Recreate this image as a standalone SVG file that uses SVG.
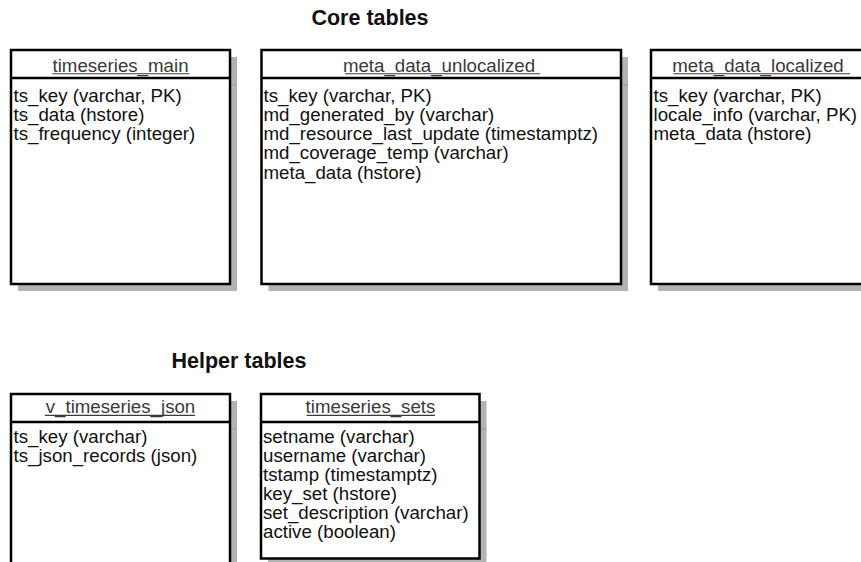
<svg xmlns="http://www.w3.org/2000/svg" width="861" height="562" viewBox="0 0 861 562">
<style>
.title{font-family:"Liberation Sans",Arial,sans-serif;font-size:21.5px;font-weight:bold;fill:#111}
.hdr{font-family:"Liberation Sans",Arial,sans-serif;font-size:18.7px;fill:#3a3a3a;text-anchor:middle}
.body{font-family:"Liberation Sans",Arial,sans-serif;font-size:18.7px;fill:#111}
.box{fill:#fff;stroke:#000;stroke-width:2.5}
.shadow{fill:#b3b3b3}
.shline{stroke:#999;stroke-width:1}
.ul{stroke:#3a3a3a;stroke-width:1.1}
</style>
<rect width="861" height="562" fill="#fff"/>
<text class="title" x="370" y="25" text-anchor="middle">Core tables</text>
<text class="title" x="239" y="368.3" text-anchor="middle">Helper tables</text>

<g id="timeseries_main">
<rect class="shadow" x="18" y="57" width="219" height="234"/>
<line class="shline" x1="231" y1="85" x2="237" y2="85"/>
<rect class="box" x="11" y="50" width="219" height="234"/>
<line class="box" x1="11" y1="78" x2="230" y2="78"/>
<text class="hdr" x="120.5" y="71.7">timeseries_main</text>
<line class="ul" x1="52.3" y1="73.8" x2="189.3" y2="73.8"/>
<text class="body" x="13.5" y="101.7">ts_key (varchar, PK)</text>
<text class="body" x="13.5" y="120.9">ts_data (hstore)</text>
<text class="body" x="13.5" y="140.1">ts_frequency (integer)</text>
</g>

<g id="meta_data_unlocalized">
<rect class="shadow" x="268.5" y="57" width="359.5" height="234"/>
<line class="shline" x1="622" y1="85" x2="628" y2="85"/>
<rect class="box" x="261.5" y="50" width="359.5" height="234"/>
<line class="box" x1="261.5" y1="78" x2="621" y2="78"/>
<text class="hdr" x="439" y="71.7">meta_data_unlocalized</text>
<line class="ul" x1="345" y1="73.8" x2="540" y2="73.8"/>
<text class="body" x="263.5" y="101.7">ts_key (varchar, PK)</text>
<text class="body" x="263.5" y="120.9">md_generated_by (varchar)</text>
<text class="body" x="263.5" y="140.1">md_resource_last_update (timestamptz)</text>
<text class="body" x="263.5" y="159.3">md_coverage_temp (varchar)</text>
<text class="body" x="263.5" y="178.5">meta_data (hstore)</text>
</g>

<g id="meta_data_localized">
<rect class="shadow" x="658" y="57" width="220" height="234"/>
<rect class="box" x="651" y="50" width="220" height="234"/>
<line class="box" x1="651" y1="78" x2="871" y2="78"/>
<text class="hdr" x="758" y="71.7">meta_data_localized</text>
<line class="ul" x1="673.3" y1="73.8" x2="850" y2="73.8"/>
<text class="body" x="653.5" y="101.7">ts_key (varchar, PK)</text>
<text class="body" x="653.5" y="120.9">locale_info (varchar, PK)</text>
<text class="body" x="653.5" y="140.1">meta_data (hstore)</text>
</g>

<g id="v_timeseries_json">
<rect class="shadow" x="18" y="401" width="219" height="220"/>
<line class="shline" x1="231" y1="429" x2="237" y2="429"/>
<rect class="box" x="11" y="394" width="219" height="220"/>
<line class="box" x1="11" y1="422" x2="230" y2="422"/>
<text class="hdr" x="120.5" y="413.3">v_timeseries_json</text>
<line class="ul" x1="45" y1="415.4" x2="195" y2="415.4"/>
<text class="body" x="13.5" y="443">ts_key (varchar)</text>
<text class="body" x="13.5" y="462.3">ts_json_records (json)</text>
</g>

<g id="timeseries_sets">
<rect class="shadow" x="268" y="401" width="218.5" height="164.5"/>
<line class="shline" x1="480.5" y1="429" x2="486.5" y2="429"/>
<rect class="box" x="261" y="394" width="218.5" height="164.5"/>
<line class="box" x1="261" y1="422" x2="479.5" y2="422"/>
<text class="hdr" x="370.5" y="413.3">timeseries_sets</text>
<line class="ul" x1="306.7" y1="415.4" x2="435" y2="415.4"/>
<text class="body" x="263" y="442.7">setname (varchar)</text>
<text class="body" x="263" y="461.8">username (varchar)</text>
<text class="body" x="263" y="480.9">tstamp (timestamptz)</text>
<text class="body" x="263" y="500">key_set (hstore)</text>
<text class="body" x="263" y="519.1">set_description (varchar)</text>
<text class="body" x="263" y="538.2">active (boolean)</text>
</g>

<g id="connectors"/>
</svg>
